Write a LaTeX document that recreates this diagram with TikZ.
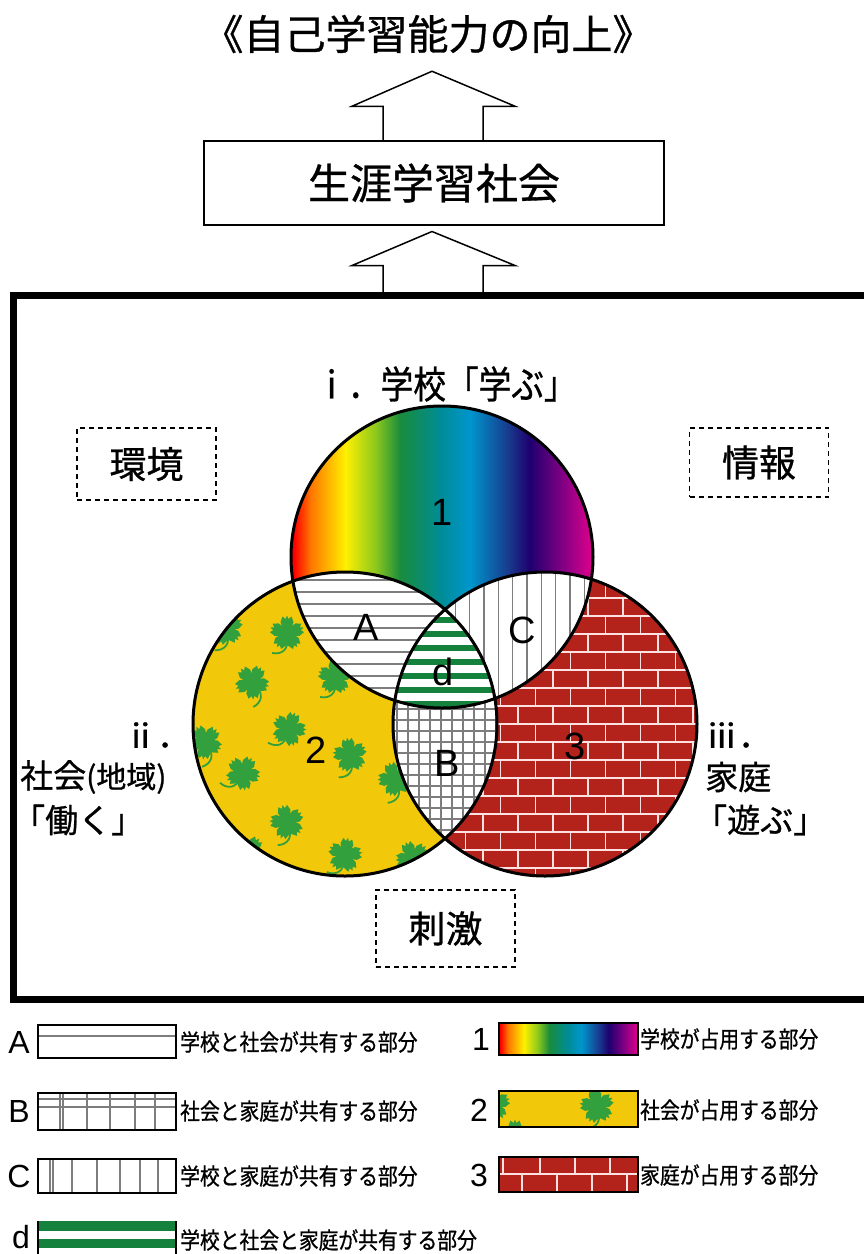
\documentclass[tikz,border=0pt]{standalone}
\usepackage{fontspec}
\setmainfont{Liberation Sans}
\newfontfamily\jp[FakeBold=0.8]{Noto Sans CJK JP}
\newfontfamily\jpc[FakeStretch=0.86,FakeBold=0.8]{Noto Sans CJK JP}
\usetikzlibrary{calc}
\definecolor{rbA}{RGB}{255,0,0}
\definecolor{rbB}{RGB}{255,120,0}
\definecolor{rbC}{RGB}{255,240,0}
\definecolor{rbD}{RGB}{140,200,30}
\definecolor{rbE}{RGB}{25,140,60}
\definecolor{rbF}{RGB}{0,140,150}
\definecolor{rbG}{RGB}{0,150,205}
\definecolor{rbH}{RGB}{25,55,140}
\definecolor{rbI}{RGB}{30,0,110}
\definecolor{rbJ}{RGB}{120,0,130}
\definecolor{rbK}{RGB}{225,0,140}
\definecolor{yel}{RGB}{242,200,10}
\definecolor{leafg}{RGB}{50,160,60}
\definecolor{brick}{RGB}{180,34,28}
\definecolor{mortar}{RGB}{255,225,225}
\definecolor{stripe}{RGB}{20,130,60}
\definecolor{hatch}{RGB}{125,125,125}
\pgfdeclarehorizontalshading{rainbow}{100bp}{color(0bp)=(rbA); color(25.5bp)=(rbA); color(28.3bp)=(rbB); color(34bp)=(rbC); color(39bp)=(rbD); color(43.1bp)=(rbE); color(49.7bp)=(rbF); color(54.6bp)=(rbG); color(61.2bp)=(rbH); color(64.5bp)=(rbI); color(69.4bp)=(rbJ); color(75bp)=(rbK); color(100bp)=(rbK)}
\tikzset{
  outline/.style={line width=1.5pt, draw=black},
  dashbox/.style={draw, dashed, dash pattern=on 5pt off 4pt, line width=1.6pt, minimum width=139pt, minimum height=72pt, inner sep=0pt, font=\jp\fontsize{37}{37}\selectfont},
  ring/.style={line width=3pt, draw=black},
  lbl/.style={inner sep=0pt, font=\jp\fontsize{33}{33}\selectfont},
  big/.style={inner sep=0pt, font=\fontsize{38}{38}\selectfont},
  legletter/.style={inner sep=0pt, font=\fontsize{32}{32}\selectfont},
  legtext/.style={inner sep=0pt, anchor=west, font=\jpc\fontsize{23}{23}\selectfont},
  legbox/.style={line width=2pt, draw=black},
  hline/.style={draw=hatch, line width=1.3pt},
  mline/.style={draw=mortar, line width=1.3pt},
  leaf/.pic={
    \fill[leafg] (0,0) circle (6.5);
    \foreach \a in {90,162,234,306,18} {\fill[leafg, rotate=\a] (0,-3) -- (11,-6.5) -- (16.5,-4.5) -- (14,-1.5) -- (17.5,0) -- (14,1.5) -- (16.5,4.5) -- (11,6.5) -- (0,3) -- cycle;}
    \draw[leafg, line width=1.8pt] (0,5) .. controls (2,16) and (-5,22) .. (-15,20);
  }
}
\begin{document}
\begin{tikzpicture}[x=1pt, y=-1pt]
\useasboundingbox (0,0) rectangle (864,1254);
\fill[white] (0,0) rectangle (864,1254);

% top part
\node[inner sep=0pt, font=\jp\fontsize{41}{41}\selectfont] (title) at (428,34) {《自己学習能力の向上》};
\node[outline, minimum width=460pt, minimum height=84pt, inner sep=0pt, font=\jp\fontsize{42}{42}\selectfont] (society) at (434,183) {生涯学習社会};
\draw[outline] ($(society.north)+(-51,0)$) -- ++(0,-34) -- ++(-31,0) -- ++(80,-35) -- ++(83,35) -- ++(-32,0) -- ++(0,34);
\coordinate (frametop) at (434,295.5);
\draw[outline] ($(frametop)+(-51,0)$) -- ++(0,-30) -- ++(-31,0) -- ++(80,-34) -- ++(83,34) -- ++(-32,0) -- ++(0,30);

% frame
\draw[line width=7pt] (13,295.5) rectangle (867,999.5);

% circles
\coordinate (T) at (442,557);
\coordinate (L) at (345,724);
\coordinate (R) at (545,724);

\shade[shading=rainbow] (T) circle (151);
\begin{scope}
  \clip (L) circle (152);
  \fill[yel] (L) circle (152);
  \foreach \px/\py/\rt in {287/633/0, 252/682/40, 289/729/-20, 350/755/10, 243/773/-30, 395/779/20, 287/822/15, 345/855/-10, 205/742/30, 335/677/0, 413/858/25, 226/628/10, 248/852/-40}
    {\pic[rotate=\rt] at (\px,\py) {leaf};}
\end{scope}
\begin{scope}
  \clip (R) circle (152);
  \fill[brick] (R) circle (152);
  \foreach \r in {0,...,18}{
    \pgfmathsetmacro\yy{562+18*\r}
    \pgfmathsetmacro\xo{378+17.5*mod(\r,2)}
    \draw[mline] (385,\yy) -- (705,\yy);
    \foreach \k in {0,...,9}{\draw[mline] ({\xo+35*\k},\yy) -- ++(0,18);}
  }
\end{scope}
% A : top and left
\begin{scope}
  \clip (T) circle (151);
  \clip (L) circle (152);
  \fill[white] (180,550) rectangle (520,720);
  \foreach \y in {580,592,...,716}{\draw[hline] (180,\y) -- (520,\y);}
\end{scope}
% C : top and right
\begin{scope}
  \clip (T) circle (151);
  \clip (R) circle (152);
  \fill[white] (380,550) rectangle (700,720);
  \foreach \x in {384,398.3,...,700}{\draw[hline] (\x,550) -- (\x,720);}
\end{scope}
% B : left and right
\begin{scope}
  \clip (L) circle (152);
  \clip (R) circle (152);
  \fill[white] (380,560) rectangle (510,880);
  \foreach \x in {386,397,...,510}{\draw[hline] (\x,560) -- (\x,880);}
  \foreach \y in {566,577,...,880}{\draw[hline] (380,\y) -- (510,\y);}
\end{scope}
% d : all three
\begin{scope}
  \clip (T) circle (151);
  \clip (L) circle (152);
  \clip (R) circle (152);
  \fill[white] (380,600) rectangle (510,720);
  \foreach \y in {617,631,...,720}{\fill[stripe] (380,\y) rectangle (510,\y+6);}
\end{scope}
\node[ring, circle, minimum size=302pt, inner sep=0pt] (school) at (T) {};
\node[ring, circle, minimum size=304pt, inner sep=0pt] (comm) at (L) {};
\node[ring, circle, minimum size=304pt, inner sep=0pt] (home) at (R) {};

\node[big] (n1) at (442,512) {1};
\node[big] (n2) at (316,750) {2};
\node[big] (n3) at (575,746) {3};
\node[big] (nA) at (366,627) {A};
\node[big] (nB) at (447,763) {B};
\node[big] (nC) at (522,630) {C};
\node[big] (nd) at (443,672) {d};

% labels
\node[inner sep=0pt, font=\jpc\fontsize{38}{38}\selectfont] (lschool) at (446,384) {ⅰ．学校「学ぶ」};
\node[dashbox] (env) at (146.5,464) {環境};
\node[dashbox, minimum height=69pt] (info) at (759,462.5) {情報};
\node[dashbox, minimum height=77pt] (stim) at (445.5,928.5) {刺激};
\node[lbl, anchor=west] (l2a) at (124,735) {ⅱ．};
\node[lbl, anchor=west] (l2b) at (20,777) {社会{\fontsize{30}{30}\selectfont (地域)}};
\node[lbl, anchor=west] (l2c) at (12,820) {「働く」};
\node[lbl, anchor=west] (l3a) at (705,735) {ⅲ．};
\node[lbl, anchor=west] (l3b) at (705,777) {家庭};
\node[lbl, anchor=west] (l3c) at (694,820) {「遊ぶ」};

% legend left
\node[legletter] (kA) at (19,1042) {A};
\draw[legbox] (38,1025) rectangle (176,1058);
\draw[hline] (39,1036) -- (175,1036);
\node[legtext] (tA) at (180,1042) {学校と社会が共有する部分};

\node[legletter] (kB) at (19,1111) {B};
\draw[hline] (39,1099) -- (175,1099) (39,1107) -- (175,1107);
\foreach \x in {60,63,87,110,135,155}{\draw[hline] (\x,1094) -- (\x,1129);}
\draw[legbox] (38,1093) rectangle (176,1130);
\node[legtext] (tB) at (180,1111) {社会と家庭が共有する部分};

\node[legletter] (kC) at (19,1176) {C};
\foreach \x in {50,53,72,97,120,140,158}{\draw[hline] (\x,1160) -- (\x,1192);}
\draw[legbox] (38,1159) rectangle (176,1193);
\node[legtext] (tC) at (180,1176) {学校と家庭が共有する部分};

\node[legletter] (kd) at (21,1237) {d};
\fill[stripe] (38,1221) rectangle (176,1231);
\fill[stripe] (38,1239) rectangle (176,1248);
\draw[legbox] (38,1221) -- (38,1262) (176,1221) -- (176,1262);
\node[legtext] (td) at (180,1240) {学校と社会と家庭が共有する部分};

% legend right
\node[legletter] (k1) at (481,1039) {1};
\shade[shading=rainbow] (499,1023) rectangle (638,1055);
\draw[legbox] (499,1023) rectangle (638,1055);
\node[legtext] (t1) at (640,1039) {学校が占用する部分};

\node[legletter] (k2) at (479,1110) {2};
\begin{scope}
  \clip (499,1091) rectangle (638,1127);
  \fill[yel] (499,1091) rectangle (638,1127);
  \pic[rotate=10] at (597,1106) {leaf};
  \pic[rotate=0] at (493,1104) {leaf};
  \pic[rotate=0] at (515,1137) {leaf};
\end{scope}
\draw[legbox] (499,1091) rectangle (638,1127);
\node[legtext] (t2) at (640,1110) {社会が占用する部分};

\node[legletter] (k3) at (479,1175) {3};
\begin{scope}
  \clip (499,1157) rectangle (638,1192);
  \fill[brick] (499,1157) rectangle (638,1192);
  \draw[mline] (499,1174) -- (638,1174);
  \foreach \x in {503,540,575,610}{\draw[mline] (\x,1157) -- (\x,1174);}
  \foreach \x in {522,557,592,627}{\draw[mline] (\x,1174) -- (\x,1192);}
\end{scope}
\draw[legbox] (499,1157) rectangle (638,1192);
\node[legtext] (t3) at (640,1175) {家庭が占用する部分};
\end{tikzpicture}
\end{document}
